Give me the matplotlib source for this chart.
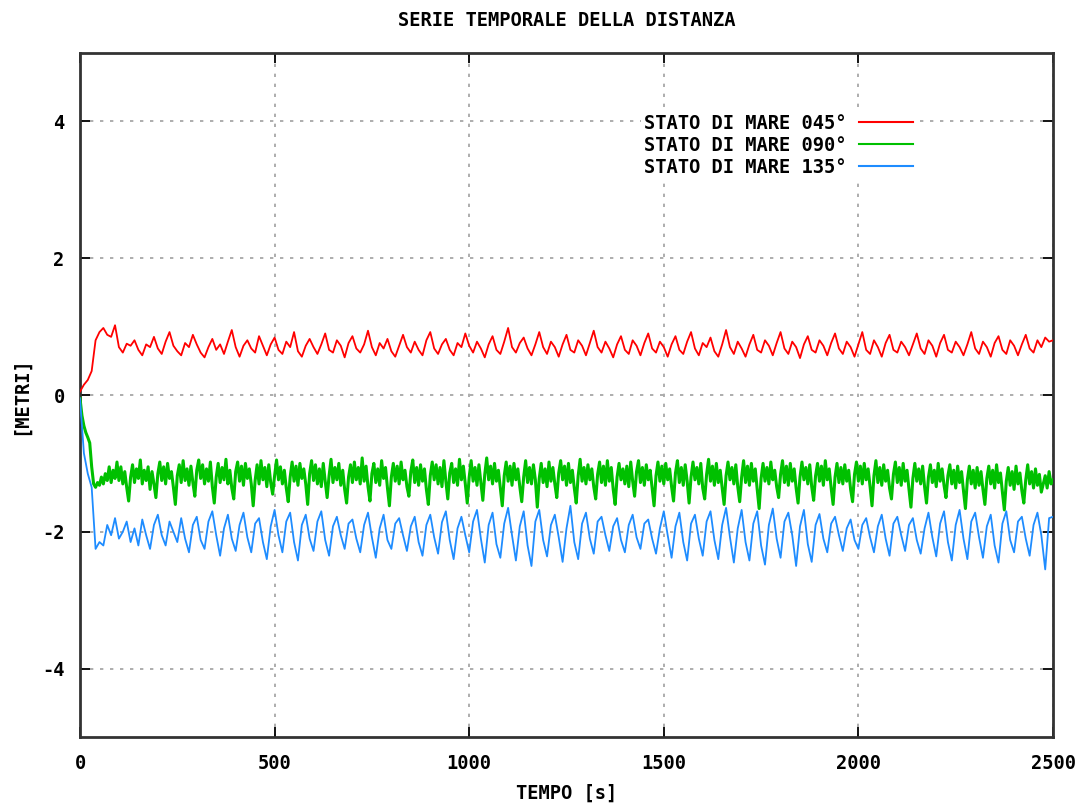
import matplotlib
matplotlib.use("Agg")
import matplotlib.pyplot as plt

plt.rcParams["axes.unicode_minus"] = False

# red and blue: one sample every 10 s, green: one sample every 5 s
time_10s = list(range(0, 2510, 10))

red_045 = [
    0.05, 0.15, 0.22, 0.35, 0.80, 0.92, 0.98, 0.88, 0.85, 1.02,
    0.70, 0.62, 0.75, 0.72, 0.80, 0.66, 0.58, 0.74, 0.70, 0.85,
    0.68, 0.60, 0.78, 0.92, 0.72, 0.64, 0.58, 0.76, 0.70, 0.88,
    0.74, 0.62, 0.55, 0.70, 0.82, 0.66, 0.74, 0.60, 0.78, 0.95,
    0.70, 0.56, 0.72, 0.80, 0.68, 0.62, 0.86, 0.72, 0.58, 0.74,
    0.84, 0.66, 0.60, 0.78, 0.70, 0.92, 0.64, 0.56, 0.72, 0.82,
    0.70, 0.60, 0.74, 0.90, 0.66, 0.62, 0.80, 0.72, 0.55, 0.76,
    0.86, 0.68, 0.62, 0.74, 0.94, 0.70, 0.58, 0.76, 0.68, 0.82,
    0.64, 0.56, 0.72, 0.88, 0.70, 0.62, 0.78, 0.66, 0.58, 0.80,
    0.92, 0.68, 0.60, 0.74, 0.82, 0.66, 0.58, 0.76, 0.70, 0.90,
    0.72, 0.62, 0.78, 0.68, 0.55, 0.74, 0.86, 0.66, 0.60, 0.78,
    0.98, 0.70, 0.62, 0.76, 0.84, 0.68, 0.58, 0.74, 0.92, 0.70,
    0.60, 0.78, 0.70, 0.56, 0.74, 0.88, 0.66, 0.62, 0.80, 0.72,
    0.58, 0.76, 0.94, 0.70, 0.62, 0.78, 0.68, 0.55, 0.74, 0.86,
    0.66, 0.60, 0.80, 0.72, 0.58, 0.76, 0.90, 0.68, 0.62, 0.78,
    0.70, 0.56, 0.74, 0.86, 0.66, 0.60, 0.78, 0.92, 0.68, 0.58,
    0.76, 0.70, 0.84, 0.64, 0.56, 0.74, 0.95, 0.70, 0.60, 0.78,
    0.68, 0.56, 0.74, 0.88, 0.66, 0.62, 0.80, 0.72, 0.58, 0.76,
    0.92, 0.68, 0.60, 0.78, 0.70, 0.54, 0.74, 0.86, 0.66, 0.62,
    0.80, 0.72, 0.58, 0.76, 0.90, 0.68, 0.60, 0.78, 0.70, 0.56,
    0.74, 0.92, 0.66, 0.60, 0.80, 0.70, 0.56, 0.76, 0.88, 0.66,
    0.62, 0.78, 0.70, 0.58, 0.74, 0.90, 0.68, 0.60, 0.80, 0.72,
    0.56, 0.76, 0.88, 0.66, 0.62, 0.78, 0.70, 0.58, 0.74, 0.92,
    0.68, 0.60, 0.78, 0.70, 0.56, 0.76, 0.86, 0.66, 0.60, 0.80,
    0.72, 0.58, 0.74, 0.88, 0.68, 0.62, 0.80, 0.70, 0.84, 0.78,
    0.80,
]

green_090 = [
    -0.05, -0.30, -0.45, -0.55, -0.62, -0.70, -1.05, -1.30, -1.35, -1.28, -1.32, -1.20, -1.30, -1.15, -1.25, -1.05, -1.28, -1.10, -1.22, -0.98,
    -1.25, -1.05, -1.30, -1.12, -1.35, -1.55, -1.20, -1.02, -1.28, -1.08, -1.22, -0.95, -1.30, -1.10, -1.25, -1.05, -1.38, -1.12, -1.30, -1.50,
    -1.15, -0.98, -1.25, -1.05, -1.30, -1.00, -1.22, -1.12, -1.35, -1.60, -1.18, -1.02, -1.28, -0.96, -1.25, -1.08, -1.32, -1.04, -1.28, -1.48,
    -1.10, -0.95, -1.22, -1.02, -1.30, -1.08, -1.26, -0.98, -1.34, -1.58, -1.20, -1.00, -1.28, -1.06, -1.24, -0.94, -1.30, -1.10, -1.36, -1.52,
    -1.12, -0.98, -1.26, -1.04, -1.32, -1.00, -1.22, -1.08, -1.30, -1.62, -1.25, -1.02, -1.30, -0.96, -1.24, -1.06, -1.34, -1.02, -1.28, -1.45,
    -1.18, -0.95, -1.24, -1.05, -1.30, -1.10, -1.36, -1.56, -1.20, -0.98, -1.26, -1.04, -1.32, -1.00, -1.22, -1.08, -1.30, -1.60, -1.15, -0.96,
    -1.25, -1.02, -1.30, -1.08, -1.34, -1.00, -1.26, -1.50, -1.18, -0.94, -1.28, -1.06, -1.24, -1.00, -1.32, -1.10, -1.38, -1.58, -1.20, -1.02,
    -1.28, -0.98, -1.24, -1.06, -1.30, -0.92, -1.26, -1.04, -1.34, -1.55, -1.15, -1.00, -1.28, -1.08, -1.32, -0.96, -1.22, -1.06, -1.36, -1.62,
    -1.20, -1.00, -1.26, -1.04, -1.30, -0.98, -1.24, -1.10, -1.34, -1.48, -1.12, -0.95, -1.28, -1.06, -1.32, -1.02, -1.26, -1.08, -1.38, -1.60,
    -1.18, -0.98, -1.24, -1.02, -1.30, -1.06, -1.34, -0.96, -1.26, -1.52, -1.14, -1.00, -1.28, -1.08, -1.32, -0.94, -1.24, -1.04, -1.30, -1.58,
    -1.20, -0.96, -1.26, -1.06, -1.32, -1.02, -1.28, -1.54, -1.16, -0.92, -1.24, -1.04, -1.30, -1.00, -1.26, -1.10, -1.36, -1.62, -1.18, -0.98,
    -1.26, -1.04, -1.32, -1.00, -1.24, -1.08, -1.34, -1.56, -1.20, -0.96, -1.28, -1.06, -1.30, -1.02, -1.24, -1.64, -1.22, -1.00, -1.28, -1.08,
    -1.34, -0.98, -1.26, -1.06, -1.30, -1.50, -1.14, -0.96, -1.24, -1.04, -1.32, -1.00, -1.28, -1.10, -1.36, -1.58, -1.18, -0.94, -1.26, -1.06,
    -1.30, -1.02, -1.24, -1.08, -1.34, -1.52, -1.16, -0.98, -1.28, -1.04, -1.32, -0.96, -1.26, -1.06, -1.38, -1.60, -1.20, -1.00, -1.24, -1.08,
    -1.30, -1.04, -1.34, -0.98, -1.26, -1.48, -1.12, -0.96, -1.28, -1.06, -1.32, -1.02, -1.24, -1.10, -1.36, -1.62, -1.18, -0.98, -1.26, -1.04,
    -1.30, -1.00, -1.24, -1.08, -1.34, -1.55, -1.14, -0.96, -1.28, -1.06, -1.32, -1.02, -1.26, -1.58, -1.20, -0.98, -1.24, -1.06, -1.30, -1.00,
    -1.36, -1.52, -1.16, -0.94, -1.26, -1.04, -1.32, -1.00, -1.28, -1.10, -1.36, -1.60, -1.18, -0.98, -1.24, -1.06, -1.30, -1.02, -1.34, -1.56,
    -1.20, -0.96, -1.28, -1.04, -1.32, -1.00, -1.26, -1.08, -1.38, -1.66, -1.22, -1.00, -1.26, -1.06, -1.30, -0.98, -1.24, -1.10, -1.34, -1.50,
    -1.16, -0.96, -1.28, -1.04, -1.32, -1.00, -1.26, -1.08, -1.36, -1.58, -1.20, -0.98, -1.24, -1.06, -1.30, -1.02, -1.34, -1.54, -1.18, -1.00,
    -1.26, -1.04, -1.32, -0.96, -1.24, -1.08, -1.36, -1.60, -1.20, -1.00, -1.28, -1.06, -1.30, -1.02, -1.26, -1.10, -1.38, -1.56, -1.16, -0.98,
    -1.26, -1.04, -1.30, -1.00, -1.24, -1.08, -1.34, -1.62, -1.18, -0.96, -1.28, -1.06, -1.32, -1.02, -1.26, -1.10, -1.36, -1.52, -1.16, -0.98,
    -1.28, -1.06, -1.32, -1.00, -1.26, -1.10, -1.38, -1.64, -1.22, -1.00, -1.26, -1.08, -1.30, -1.04, -1.34, -1.58, -1.20, -1.02, -1.28, -1.10,
    -1.34, -1.00, -1.26, -1.08, -1.32, -1.50, -1.18, -1.02, -1.30, -1.10, -1.36, -1.04, -1.28, -1.12, -1.40, -1.66, -1.24, -1.04, -1.30, -1.10,
    -1.36, -1.06, -1.32, -1.12, -1.38, -1.60, -1.22, -1.04, -1.30, -1.10, -1.36, -1.02, -1.28, -1.14, -1.42, -1.68, -1.26, -1.06, -1.32, -1.12,
    -1.38, -1.04, -1.30, -1.14, -1.40, -1.58, -1.24, -1.02, -1.30, -1.12, -1.36, -1.08, -1.32, -1.16, -1.42, -1.30, -1.18, -1.36, -1.12, -1.30,
    -1.24,
]
time_5s = [5 * i for i in range(len(green_090))]

blue_135 = [
    -0.05, -0.85, -1.15, -1.35, -2.25, -2.15, -2.20, -1.90, -2.05, -1.80,
    -2.10, -2.00, -1.85, -2.15, -1.95, -2.20, -1.82, -2.05, -2.25, -1.90,
    -1.75, -2.05, -2.20, -1.85, -2.00, -2.15, -1.80, -2.10, -2.30, -1.90,
    -1.78, -2.12, -2.25, -1.85, -1.70, -2.05, -2.35, -1.95, -1.75, -2.10,
    -2.28, -1.90, -1.72, -2.08, -2.30, -1.88, -1.80, -2.15, -2.40, -1.92,
    -1.68, -2.05, -2.30, -1.85, -1.72, -2.15, -2.42, -1.90, -1.75, -2.10,
    -2.28, -1.85, -1.70, -2.12, -2.35, -1.92, -1.78, -2.05, -2.25, -1.88,
    -1.82, -2.10, -2.30, -1.90, -1.72, -2.08, -2.38, -1.95, -1.75, -2.12,
    -2.25, -1.88, -1.80, -2.05, -2.28, -1.92, -1.78, -2.15, -2.35, -1.90,
    -1.75, -2.08, -2.32, -1.86, -1.70, -2.12, -2.40, -1.95, -1.78, -2.05,
    -2.30, -1.85, -1.68, -2.10, -2.45, -1.90, -1.72, -2.18, -2.38, -1.88,
    -1.65, -2.05, -2.42, -1.92, -1.70, -2.20, -2.50, -1.85, -1.68, -2.12,
    -2.36, -1.90, -1.75, -2.08, -2.44, -1.95, -1.62, -2.15, -2.40, -1.88,
    -1.72, -2.10, -2.32, -1.85, -1.78, -2.05, -2.28, -1.92, -1.80, -2.12,
    -2.30, -1.90, -1.75, -2.08, -2.25, -1.88, -1.82, -2.10, -2.32, -1.95,
    -1.70, -2.05, -2.38, -1.92, -1.72, -2.15, -2.42, -1.88, -1.75, -2.10,
    -2.35, -1.85, -1.70, -2.12, -2.40, -1.90, -1.65, -2.08, -2.45, -1.95,
    -1.68, -2.15, -2.42, -1.88, -1.70, -2.20, -2.48, -1.90, -1.66, -2.10,
    -2.38, -1.85, -1.72, -2.05, -2.50, -1.92, -1.68, -2.18, -2.44, -1.90,
    -1.74, -2.10, -2.30, -1.88, -1.78, -2.05, -2.28, -1.95, -1.82, -2.12,
    -2.25, -1.90, -1.80, -2.08, -2.30, -1.92, -1.75, -2.10, -2.35, -1.88,
    -1.78, -2.05, -2.28, -1.90, -1.80, -2.12, -2.32, -1.95, -1.72, -2.08,
    -2.36, -1.88, -1.70, -2.15, -2.42, -1.90, -1.68, -2.10, -2.40, -1.85,
    -1.72, -2.08, -2.38, -1.92, -1.75, -2.20, -2.45, -1.88, -1.70, -2.12,
    -2.30, -1.85, -1.78, -2.10, -2.35, -1.90, -1.72, -2.05, -2.55, -1.80,
    -1.78,
]

series_labels = ["STATO DI MARE 045°", "STATO DI MARE 090°", "STATO DI MARE 135°"]
x_ticks = [0, 500, 1000, 1500, 2000, 2500]
y_ticks = [-4, -2, 0, 2, 4]

FONT = "DejaVu Sans Mono"
fs = 13.5
W, H = 1088, 805

fig = plt.figure(figsize=(W / 100, H / 100), dpi=100)
ax = fig.add_axes([80 / W, 1 - 737 / H, (1053 - 80) / W, (737 - 53) / H])

ax.plot(time_10s, red_045, color="#ff0000", lw=1.3, label=series_labels[0], zorder=3)
ax.plot(time_5s, green_090, color="#00c000", lw=2.2, label=series_labels[1], zorder=3)
ax.plot(time_10s, blue_135, color="#1e8cff", lw=1.3, label=series_labels[2], zorder=3)

ax.set_xlim(0, 2500)
ax.set_ylim(-5, 5)
ax.set_xticks(x_ticks)
ax.set_yticks(y_ticks)
ax.tick_params(direction="in", length=7, width=1.3, top=True, right=True,
               labelsize=fs, color="black")
ax.tick_params(axis="x", pad=12)
ax.tick_params(axis="y", pad=11)
for lab in ax.get_xticklabels() + ax.get_yticklabels():
    lab.set_fontfamily(FONT)
    lab.set_fontweight("bold")

ax.grid(True, color="#a0a0a0", linestyle=(0, (2, 4)), linewidth=1.2)
for sp in ax.spines.values():
    sp.set_linewidth(2.0)
    sp.set_color("#333333")

txt = dict(fontfamily=FONT, fontweight="bold", fontsize=fs)
cx = (80 + 1053) / 2 / W
fig.text(cx, 1 - 20 / H, "SERIE TEMPORALE DELLA DISTANZA", ha="center", va="center", **txt)
fig.text(cx, 1 - 793 / H, "TEMPO [s]", ha="center", va="center", **txt)
fig.text(20 / W, 1 - 396 / H, "[METRI]", ha="center", va="center", rotation=90, **txt)

leg = ax.legend(loc="upper right", bbox_to_anchor=((917 - 80) / 973, (737 - 110) / 684),
                markerfirst=False, frameon=True, framealpha=1.0, edgecolor="none",
                facecolor="white", fancybox=False, borderpad=0.2, labelspacing=0.16,
                handlelength=2.9, handletextpad=0.64, borderaxespad=0.0,
                prop={"family": FONT, "weight": "bold", "size": fs})
for line in leg.get_lines():
    line.set_linewidth(1.5)

fig.savefig("out.png", dpi=100)
